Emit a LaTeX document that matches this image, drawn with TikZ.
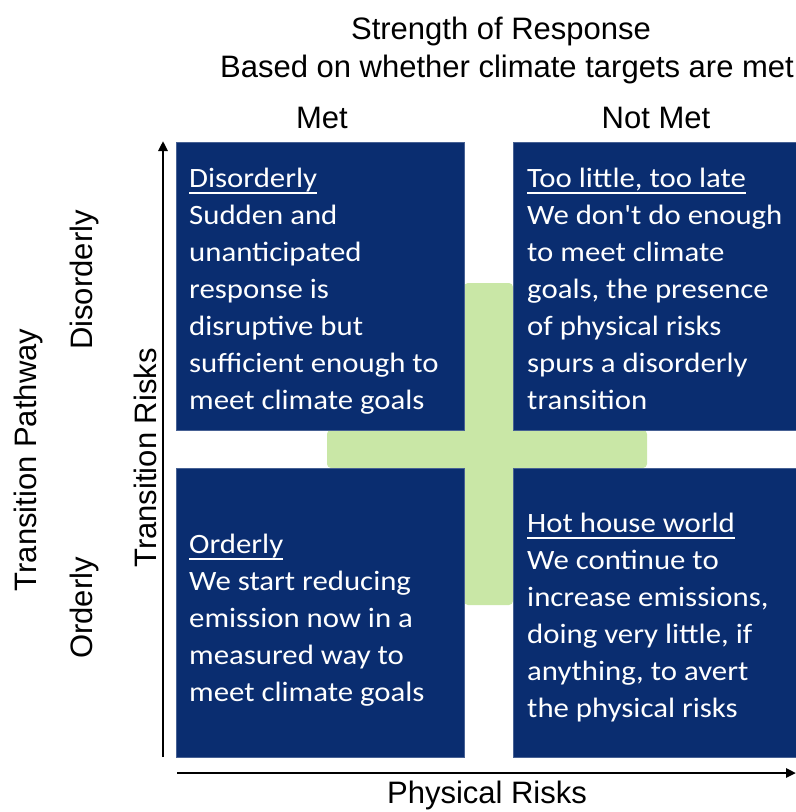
\documentclass[tikz,border=0pt]{standalone}
\usepackage{fontspec}
\setmainfont{Liberation Sans}
\newfontfamily\boxfont[FakeStretch=1.1]{Carlito}
\usetikzlibrary{arrows.meta}
\definecolor{navy}{RGB}{10,45,112}
\definecolor{leaf}{RGB}{201,231,166}
\newcommand\ulbar[1]{\setbox0=\hbox{#1}\rlap{\rule[-7bp]{\wd0}{1.8bp}}\box0}
\newcommand\firstln{\rule{0pt}{26bp}}
\tikzset{
  quad/.style={fill=navy, draw=navy!75!white, line width=0.6bp, inner sep=0pt},
  quadtext/.style={anchor=north west, inner sep=0pt, align=left, text=white,
    font=\boxfont\fontsize{28bp}{37bp}\selectfont},
  lbl/.style={inner sep=0pt, font=\fontsize{31bp}{36bp}\selectfont},
  axis/.style={line width=2.6bp, -{Triangle[length=10bp,width=9bp]}},
  cross/.style={fill=leaf, rounded corners=4bp}
}
\begin{document}
\begin{tikzpicture}[x=1bp,y=-1bp]
\useasboundingbox (0,0) rectangle (796,812);
% green cross
\fill[cross] (327,430) rectangle (647,468);
\fill[cross] (464,283) rectangle (513,605);
% quadrants
\node[quad, minimum width=288bp, minimum height=288bp] (tl) at (320,286) {};
\node[quad, minimum width=285bp, minimum height=288bp] (tr) at (655.5,286) {};
\node[quad, minimum width=288bp, minimum height=289bp] (bl) at (320,612.5) {};
\node[quad, minimum width=285bp, minimum height=289bp] (br) at (655.5,612.5) {};
% quadrant texts
\node[quadtext] (tltext) at (189,161) {\firstln\ulbar{Disorderly}\\Sudden and\\unanticipated\\response is\\disruptive but\\sufficient enough to\\meet climate goals};
\node[quadtext] (trtext) at (527,161) {\firstln\ulbar{Too little, too late}\\We don't do enough\\to meet climate\\goals, the presence\\of physical risks\\spurs a disorderly\\transition};
\node[quadtext] (bltext) at (189,527) {\firstln\ulbar{Orderly}\\We start reducing\\emission now in a\\measured way to\\meet climate goals};
\node[quadtext] (brtext) at (527,506) {\firstln\ulbar{Hot house world}\\We continue to\\increase emissions,\\doing very little, if\\anything, to avert\\the physical risks};
% top labels
\node[lbl, anchor=base] (strength) at (501,40) {Strength of Response};
\node[lbl, anchor=base] (based) at (507,78) {Based on whether climate targets are met};
\node[lbl, anchor=base] (met) at (322,128) {Met};
\node[lbl, anchor=base] (notmet) at (656,128) {Not Met};
% left labels
\node[lbl, rotate=90] (pathway) at (28,460) {Transition Pathway};
\node[lbl, rotate=90] (disord) at (84,280) {Disorderly};
\node[lbl, rotate=90] (ord) at (84,608) {Orderly};
\node[lbl, rotate=90] (trisks) at (145,458) {Transition Risks};
% bottom label
\node[lbl, anchor=base] (phys) at (487,803) {Physical Risks};
% axes
\coordinate (vstart) at (163,757);
\coordinate (vend) at (163,141);
\coordinate (hstart) at (177,773);
\coordinate (hend) at (796,773);
\draw[axis] (vstart) -- (vend);
\draw[axis] (hstart) -- (hend);
\end{tikzpicture}
\end{document}
